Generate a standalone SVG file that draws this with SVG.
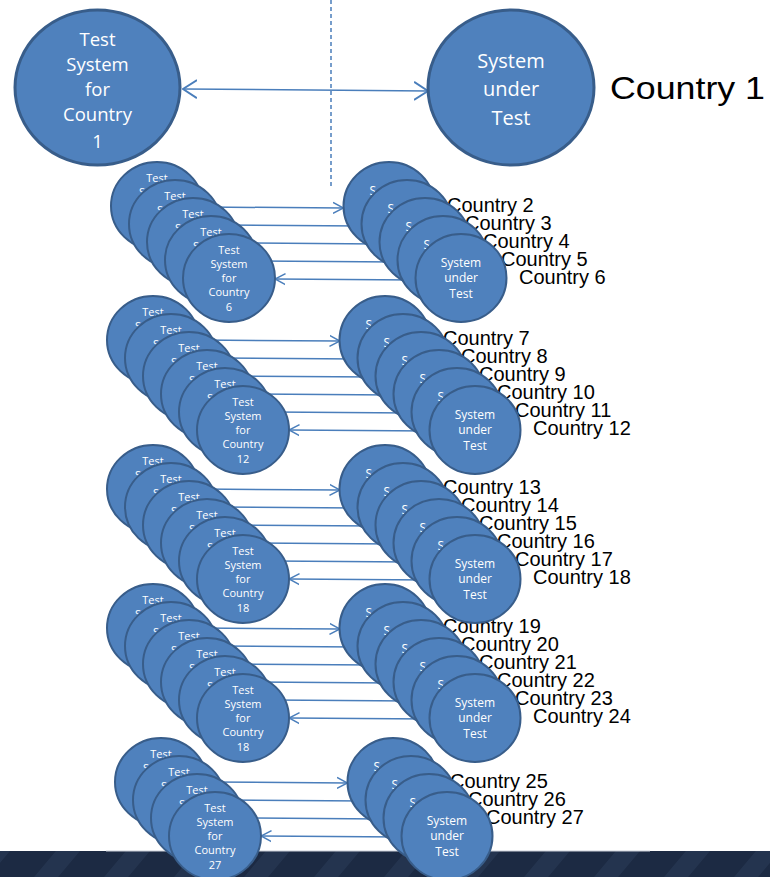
<svg xmlns="http://www.w3.org/2000/svg" width="770" height="877" viewBox="0 0 770 877">
<style>
.s{fill:#4f81bd;stroke:#385d8a;stroke-width:2}
.b{fill:#4f81bd;stroke:#385d8a;stroke-width:3}
.tl{font-family:"Open Sans","DejaVu Sans",sans-serif;font-size:11px;fill:#fff;text-anchor:middle}
.tr{font-family:"Open Sans","DejaVu Sans",sans-serif;font-size:12px;fill:#fff;text-anchor:middle}
.sl{font-family:"Open Sans","DejaVu Sans",sans-serif;font-size:11px;fill:#fff}
.sr{font-family:"Open Sans","DejaVu Sans",sans-serif;font-size:12px;fill:#fff}
.tb{font-family:"Open Sans","DejaVu Sans",sans-serif;font-size:18.5px;fill:#fff;text-anchor:middle}
.tbr{font-family:"Open Sans","DejaVu Sans",sans-serif;font-size:20px;fill:#fff;text-anchor:middle}
.c{font-family:"Liberation Sans",Arial,sans-serif;font-size:20px;fill:#000}
.ln{stroke:#4a7ebb;stroke-width:1.5;fill:none}
</style>
<defs>
<marker id="ah" markerUnits="userSpaceOnUse" viewBox="0 -7 11 14" refX="10.5" refY="0" markerWidth="11" markerHeight="14" orient="auto"><path d="M0,-5.5 L10.5,0 L0,5.5" fill="none" stroke="#4a7ebb" stroke-width="1.5"/></marker>
<marker id="ahb" markerUnits="userSpaceOnUse" viewBox="0 -10 15 20" refX="14" refY="0" markerWidth="15" markerHeight="20" orient="auto-start-reverse"><path d="M0,-9 L14,0 L0,9" fill="none" stroke="#4a7ebb" stroke-width="2"/></marker>
<pattern id="st" width="70" height="26" patternUnits="userSpaceOnUse" patternTransform="skewX(-40)"><rect width="70" height="26" fill="#1c2a43"/><rect width="24" height="26" fill="#24344f"/></pattern>
</defs>
<rect width="770" height="877" fill="#fff"/>
<g id="band">
<rect x="0" y="851" width="770" height="26" fill="url(#st)"/>
<line x1="106" y1="851" x2="650" y2="851" stroke="#c9ced8" stroke-width="1"/>
</g>
<g id="labels">
<text class="c" x="610" y="99" style="font-size:31px" textLength="155" lengthAdjust="spacingAndGlyphs">Country 1</text>
<text class="c" x="447" y="212">Country 2</text>
<text class="c" x="465" y="230">Country 3</text>
<text class="c" x="483" y="248">Country 4</text>
<text class="c" x="501" y="266">Country 5</text>
<text class="c" x="519" y="284">Country 6</text>
<text class="c" x="443" y="345">Country 7</text>
<text class="c" x="461" y="363">Country 8</text>
<text class="c" x="479" y="381">Country 9</text>
<text class="c" x="497" y="399">Country 10</text>
<text class="c" x="515" y="417">Country 11</text>
<text class="c" x="533" y="435">Country 12</text>
<text class="c" x="443" y="494">Country 13</text>
<text class="c" x="461" y="512">Country 14</text>
<text class="c" x="479" y="530">Country 15</text>
<text class="c" x="497" y="548">Country 16</text>
<text class="c" x="515" y="566">Country 17</text>
<text class="c" x="533" y="584">Country 18</text>
<text class="c" x="443" y="633">Country 19</text>
<text class="c" x="461" y="651">Country 20</text>
<text class="c" x="479" y="669">Country 21</text>
<text class="c" x="497" y="687">Country 22</text>
<text class="c" x="515" y="705">Country 23</text>
<text class="c" x="533" y="723">Country 24</text>
<text class="c" x="450" y="788">Country 25</text>
<text class="c" x="468" y="806">Country 26</text>
<text class="c" x="486" y="824">Country 27</text>
</g>
<g id="connectors">
<line class="ln" x1="331" y1="0" x2="331" y2="188" stroke-dasharray="4 3"/>
<line class="ln" x1="183" y1="89" x2="428" y2="91" stroke-width="2" marker-start="url(#ahb)" marker-end="url(#ahb)"/>
<line class="ln" x1="203" y1="207" x2="343.5" y2="208" marker-end="url(#ah)"/>
<line class="ln" x1="221" y1="225" x2="361.5" y2="226"/>
<line class="ln" x1="239" y1="243" x2="379.5" y2="244"/>
<line class="ln" x1="257" y1="261" x2="397.5" y2="262"/>
<line class="ln" x1="415.5" y1="280" x2="275" y2="279" marker-end="url(#ah)"/>
<line class="ln" x1="199" y1="340" x2="340" y2="341" marker-end="url(#ah)"/>
<line class="ln" x1="217" y1="358" x2="358" y2="359"/>
<line class="ln" x1="235" y1="376" x2="376" y2="377"/>
<line class="ln" x1="253" y1="394" x2="394" y2="395"/>
<line class="ln" x1="271" y1="412" x2="412" y2="413"/>
<line class="ln" x1="430" y1="431" x2="289" y2="430" marker-end="url(#ah)"/>
<line class="ln" x1="199" y1="489" x2="340" y2="490" marker-end="url(#ah)"/>
<line class="ln" x1="217" y1="507" x2="358" y2="508"/>
<line class="ln" x1="235" y1="525" x2="376" y2="526"/>
<line class="ln" x1="253" y1="543" x2="394" y2="544"/>
<line class="ln" x1="271" y1="561" x2="412" y2="562"/>
<line class="ln" x1="430" y1="580" x2="289" y2="579" marker-end="url(#ah)"/>
<line class="ln" x1="199" y1="628" x2="340" y2="629" marker-end="url(#ah)"/>
<line class="ln" x1="217" y1="646" x2="358" y2="647"/>
<line class="ln" x1="235" y1="664" x2="376" y2="665"/>
<line class="ln" x1="253" y1="682" x2="394" y2="683"/>
<line class="ln" x1="271" y1="700" x2="412" y2="701"/>
<line class="ln" x1="430" y1="719" x2="289" y2="718" marker-end="url(#ah)"/>
<line class="ln" x1="207" y1="782" x2="347.5" y2="783" marker-end="url(#ah)"/>
<line class="ln" x1="225" y1="800" x2="365.5" y2="801"/>
<line class="ln" x1="243" y1="818" x2="383.5" y2="819"/>
<line class="ln" x1="401.5" y1="837" x2="261" y2="836" marker-end="url(#ah)"/>
</g>
<g id="ts1" transform="translate(97.5,87.5)"><ellipse class="b" rx="82.5" ry="77.5"/><text class="tb"><tspan x="0" y="-42">Test</tspan><tspan x="0" y="-17">System</tspan><tspan x="0" y="8.5">for</tspan><tspan x="0" y="33.5">Country</tspan><tspan x="0" y="60.5">1</tspan></text></g>
<g id="sut1" transform="translate(511,87.5)"><ellipse class="b" rx="83" ry="77.5"/><text class="tbr"><tspan x="0" y="-19.5">System</tspan><tspan x="0" y="8.5">under</tspan><tspan x="0" y="37.5">Test</tspan></text></g>
<g id="ts2" transform="translate(157,206)"><ellipse class="s" rx="46" ry="44"/><text class="tl" x="0" y="-24">Test</text><text class="sl" x="-18" y="-10">S</text></g>
<g id="ts3" transform="translate(175,224)"><ellipse class="s" rx="46" ry="44"/><text class="tl" x="0" y="-24">Test</text><text class="sl" x="-18" y="-10">S</text></g>
<g id="ts4" transform="translate(193,242)"><ellipse class="s" rx="46" ry="44"/><text class="tl" x="0" y="-24">Test</text><text class="sl" x="-18" y="-10">S</text></g>
<g id="ts5" transform="translate(211,260)"><ellipse class="s" rx="46" ry="44"/><text class="tl" x="0" y="-24">Test</text><text class="sl" x="-18" y="-10">S</text></g>
<g id="ts6" transform="translate(229,278)"><ellipse class="s" rx="46" ry="44"/><text class="tl"><tspan x="0" y="-24">Test</tspan><tspan x="0" y="-10">System</tspan><tspan x="0" y="4">for</tspan><tspan x="0" y="18">Country</tspan><tspan x="0" y="33">6</tspan></text></g>
<g id="sut2" transform="translate(389,206)"><ellipse class="s" rx="45.5" ry="44"/><text class="sr" x="-19.5" y="-11">S</text></g>
<g id="sut3" transform="translate(407,224)"><ellipse class="s" rx="45.5" ry="44"/><text class="sr" x="-19.5" y="-11">S</text></g>
<g id="sut4" transform="translate(425,242)"><ellipse class="s" rx="45.5" ry="44"/><text class="sr" x="-19.5" y="-11">S</text></g>
<g id="sut5" transform="translate(443,260)"><ellipse class="s" rx="45.5" ry="44"/><text class="sr" x="-19.5" y="-11">S</text></g>
<g id="sut6" transform="translate(461,278)"><ellipse class="s" rx="45.5" ry="44"/><text class="tr"><tspan x="0" y="-11">System</tspan><tspan x="0" y="4">under</tspan><tspan x="0" y="20">Test</tspan></text></g>
<g id="ts7" transform="translate(153,340)"><ellipse class="s" rx="46" ry="44"/><text class="tl" x="0" y="-24">Test</text><text class="sl" x="-18" y="-10">S</text></g>
<g id="ts8" transform="translate(171,358)"><ellipse class="s" rx="46" ry="44"/><text class="tl" x="0" y="-24">Test</text><text class="sl" x="-18" y="-10">S</text></g>
<g id="ts9" transform="translate(189,376)"><ellipse class="s" rx="46" ry="44"/><text class="tl" x="0" y="-24">Test</text><text class="sl" x="-18" y="-10">S</text></g>
<g id="ts10" transform="translate(207,394)"><ellipse class="s" rx="46" ry="44"/><text class="tl" x="0" y="-24">Test</text><text class="sl" x="-18" y="-10">S</text></g>
<g id="ts11" transform="translate(225,412)"><ellipse class="s" rx="46" ry="44"/><text class="tl" x="0" y="-24">Test</text><text class="sl" x="-18" y="-10">S</text></g>
<g id="ts12" transform="translate(243,430)"><ellipse class="s" rx="46" ry="44"/><text class="tl"><tspan x="0" y="-24">Test</tspan><tspan x="0" y="-10">System</tspan><tspan x="0" y="4">for</tspan><tspan x="0" y="18">Country</tspan><tspan x="0" y="33">12</tspan></text></g>
<g id="sut7" transform="translate(385,340)"><ellipse class="s" rx="45.5" ry="44"/><text class="sr" x="-19.5" y="-11">S</text></g>
<g id="sut8" transform="translate(403,358)"><ellipse class="s" rx="45.5" ry="44"/><text class="sr" x="-19.5" y="-11">S</text></g>
<g id="sut9" transform="translate(421,376)"><ellipse class="s" rx="45.5" ry="44"/><text class="sr" x="-19.5" y="-11">S</text></g>
<g id="sut10" transform="translate(439,394)"><ellipse class="s" rx="45.5" ry="44"/><text class="sr" x="-19.5" y="-11">S</text></g>
<g id="sut11" transform="translate(457,412)"><ellipse class="s" rx="45.5" ry="44"/><text class="sr" x="-19.5" y="-11">S</text></g>
<g id="sut12" transform="translate(475,430)"><ellipse class="s" rx="45.5" ry="44"/><text class="tr"><tspan x="0" y="-11">System</tspan><tspan x="0" y="4">under</tspan><tspan x="0" y="20">Test</tspan></text></g>
<g id="ts13" transform="translate(153,489)"><ellipse class="s" rx="46" ry="44"/><text class="tl" x="0" y="-24">Test</text><text class="sl" x="-18" y="-10">S</text></g>
<g id="ts14" transform="translate(171,507)"><ellipse class="s" rx="46" ry="44"/><text class="tl" x="0" y="-24">Test</text><text class="sl" x="-18" y="-10">S</text></g>
<g id="ts15" transform="translate(189,525)"><ellipse class="s" rx="46" ry="44"/><text class="tl" x="0" y="-24">Test</text><text class="sl" x="-18" y="-10">S</text></g>
<g id="ts16" transform="translate(207,543)"><ellipse class="s" rx="46" ry="44"/><text class="tl" x="0" y="-24">Test</text><text class="sl" x="-18" y="-10">S</text></g>
<g id="ts17" transform="translate(225,561)"><ellipse class="s" rx="46" ry="44"/><text class="tl" x="0" y="-24">Test</text><text class="sl" x="-18" y="-10">S</text></g>
<g id="ts18" transform="translate(243,579)"><ellipse class="s" rx="46" ry="44"/><text class="tl"><tspan x="0" y="-24">Test</tspan><tspan x="0" y="-10">System</tspan><tspan x="0" y="4">for</tspan><tspan x="0" y="18">Country</tspan><tspan x="0" y="33">18</tspan></text></g>
<g id="sut13" transform="translate(385,489)"><ellipse class="s" rx="45.5" ry="44"/><text class="sr" x="-19.5" y="-11">S</text></g>
<g id="sut14" transform="translate(403,507)"><ellipse class="s" rx="45.5" ry="44"/><text class="sr" x="-19.5" y="-11">S</text></g>
<g id="sut15" transform="translate(421,525)"><ellipse class="s" rx="45.5" ry="44"/><text class="sr" x="-19.5" y="-11">S</text></g>
<g id="sut16" transform="translate(439,543)"><ellipse class="s" rx="45.5" ry="44"/><text class="sr" x="-19.5" y="-11">S</text></g>
<g id="sut17" transform="translate(457,561)"><ellipse class="s" rx="45.5" ry="44"/><text class="sr" x="-19.5" y="-11">S</text></g>
<g id="sut18" transform="translate(475,579)"><ellipse class="s" rx="45.5" ry="44"/><text class="tr"><tspan x="0" y="-11">System</tspan><tspan x="0" y="4">under</tspan><tspan x="0" y="20">Test</tspan></text></g>
<g id="ts19" transform="translate(153,628)"><ellipse class="s" rx="46" ry="44"/><text class="tl" x="0" y="-24">Test</text><text class="sl" x="-18" y="-10">S</text></g>
<g id="ts20" transform="translate(171,646)"><ellipse class="s" rx="46" ry="44"/><text class="tl" x="0" y="-24">Test</text><text class="sl" x="-18" y="-10">S</text></g>
<g id="ts21" transform="translate(189,664)"><ellipse class="s" rx="46" ry="44"/><text class="tl" x="0" y="-24">Test</text><text class="sl" x="-18" y="-10">S</text></g>
<g id="ts22" transform="translate(207,682)"><ellipse class="s" rx="46" ry="44"/><text class="tl" x="0" y="-24">Test</text><text class="sl" x="-18" y="-10">S</text></g>
<g id="ts23" transform="translate(225,700)"><ellipse class="s" rx="46" ry="44"/><text class="tl" x="0" y="-24">Test</text><text class="sl" x="-18" y="-10">S</text></g>
<g id="ts24" transform="translate(243,718)"><ellipse class="s" rx="46" ry="44"/><text class="tl"><tspan x="0" y="-24">Test</tspan><tspan x="0" y="-10">System</tspan><tspan x="0" y="4">for</tspan><tspan x="0" y="18">Country</tspan><tspan x="0" y="33">18</tspan></text></g>
<g id="sut19" transform="translate(385,628)"><ellipse class="s" rx="45.5" ry="44"/><text class="sr" x="-19.5" y="-11">S</text></g>
<g id="sut20" transform="translate(403,646)"><ellipse class="s" rx="45.5" ry="44"/><text class="sr" x="-19.5" y="-11">S</text></g>
<g id="sut21" transform="translate(421,664)"><ellipse class="s" rx="45.5" ry="44"/><text class="sr" x="-19.5" y="-11">S</text></g>
<g id="sut22" transform="translate(439,682)"><ellipse class="s" rx="45.5" ry="44"/><text class="sr" x="-19.5" y="-11">S</text></g>
<g id="sut23" transform="translate(457,700)"><ellipse class="s" rx="45.5" ry="44"/><text class="sr" x="-19.5" y="-11">S</text></g>
<g id="sut24" transform="translate(475,718)"><ellipse class="s" rx="45.5" ry="44"/><text class="tr"><tspan x="0" y="-11">System</tspan><tspan x="0" y="4">under</tspan><tspan x="0" y="20">Test</tspan></text></g>
<g id="ts25" transform="translate(161,782)"><ellipse class="s" rx="46" ry="44"/><text class="tl" x="0" y="-24">Test</text><text class="sl" x="-18" y="-10">S</text></g>
<g id="ts26" transform="translate(179,800)"><ellipse class="s" rx="46" ry="44"/><text class="tl" x="0" y="-24">Test</text><text class="sl" x="-18" y="-10">S</text></g>
<g id="ts27a" transform="translate(197,818)"><ellipse class="s" rx="46" ry="44"/><text class="tl" x="0" y="-24">Test</text><text class="sl" x="-18" y="-10">S</text></g>
<g id="ts27" transform="translate(215,836)"><ellipse class="s" rx="46" ry="44"/><text class="tl"><tspan x="0" y="-24">Test</tspan><tspan x="0" y="-10">System</tspan><tspan x="0" y="4">for</tspan><tspan x="0" y="18">Country</tspan><tspan x="0" y="33">27</tspan></text></g>
<g id="sut25" transform="translate(393,782)"><ellipse class="s" rx="45.5" ry="44"/><text class="sr" x="-19.5" y="-11">S</text></g>
<g id="sut26" transform="translate(411,800)"><ellipse class="s" rx="45.5" ry="44"/><text class="sr" x="-19.5" y="-11">S</text></g>
<g id="sut27a" transform="translate(429,818)"><ellipse class="s" rx="45.5" ry="44"/><text class="sr" x="-19.5" y="-11">S</text></g>
<g id="sut27" transform="translate(447,836)"><ellipse class="s" rx="45.5" ry="44"/><text class="tr"><tspan x="0" y="-11">System</tspan><tspan x="0" y="4">under</tspan><tspan x="0" y="20">Test</tspan></text></g>
</svg>
